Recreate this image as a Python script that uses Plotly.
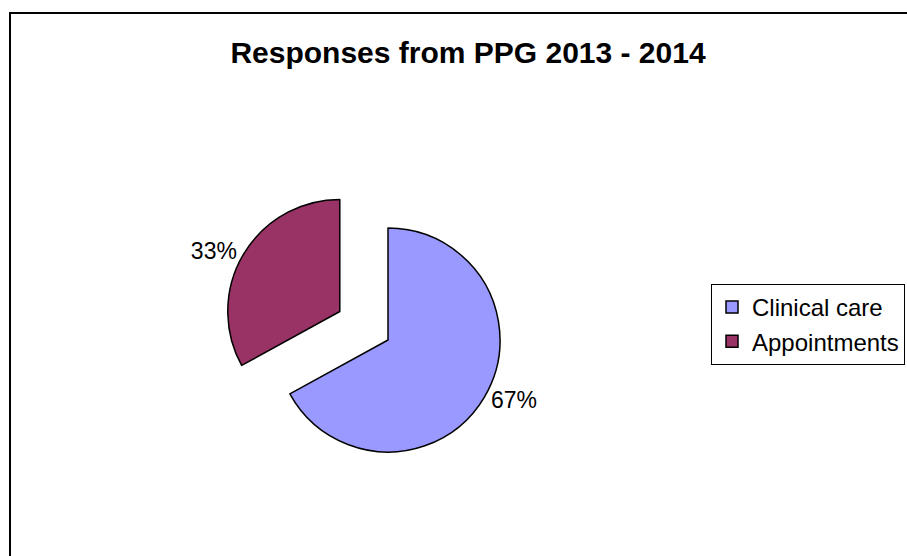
import plotly.graph_objects as go

categories = ["Clinical care", "Appointments"]
values = [67, 33]
colors = ["#9999FF", "#993366"]
pulls = [0, 0.5]

W, H = 907, 556
cx, cy, side = 388, 340, 336

fig = go.Figure(go.Pie(
    labels=categories,
    values=values,
    sort=False,
    direction="clockwise",
    rotation=0,
    pull=pulls,
    automargin=False,
    marker=dict(colors=colors, line=dict(color="black", width=1.5)),
    textinfo="percent",
    texttemplate="%{percent:.0%}",
    textposition="outside",
    outsidetextfont=dict(family="Liberation Sans, Arial", size=23, color="black"),
    domain=dict(x=[(cx - side / 2) / W, (cx + side / 2) / W],
                y=[1 - (cy + side / 2) / H, 1 - (cy - side / 2) / H]),
    hoverinfo="label+percent",
))

fig.update_layout(
    width=W, height=H,
    margin=dict(l=0, r=0, t=0, b=0, autoexpand=False),
    paper_bgcolor="white",
    font=dict(family="Liberation Sans, Arial", color="black"),
    title=dict(text="<b>Responses from PPG 2013 - 2014</b>",
               x=468 / W, xanchor="center", y=1 - 52 / H, yanchor="middle",
               font=dict(size=30, family="Liberation Sans, Arial", color="black")),
    legend=dict(x=905 / W, xanchor="right", y=1 - 324.5 / H, yanchor="middle",
                bordercolor="black", borderwidth=1, bgcolor="white",
                font=dict(size=24, family="Liberation Sans, Arial", color="black")),
    shapes=[dict(type="rect", xref="paper", yref="paper",
                 x0=10 / W, x1=1.05, y0=-0.05, y1=1 - 13 / H,
                 line=dict(color="black", width=2))],
)

fig.write_html("out.html")
